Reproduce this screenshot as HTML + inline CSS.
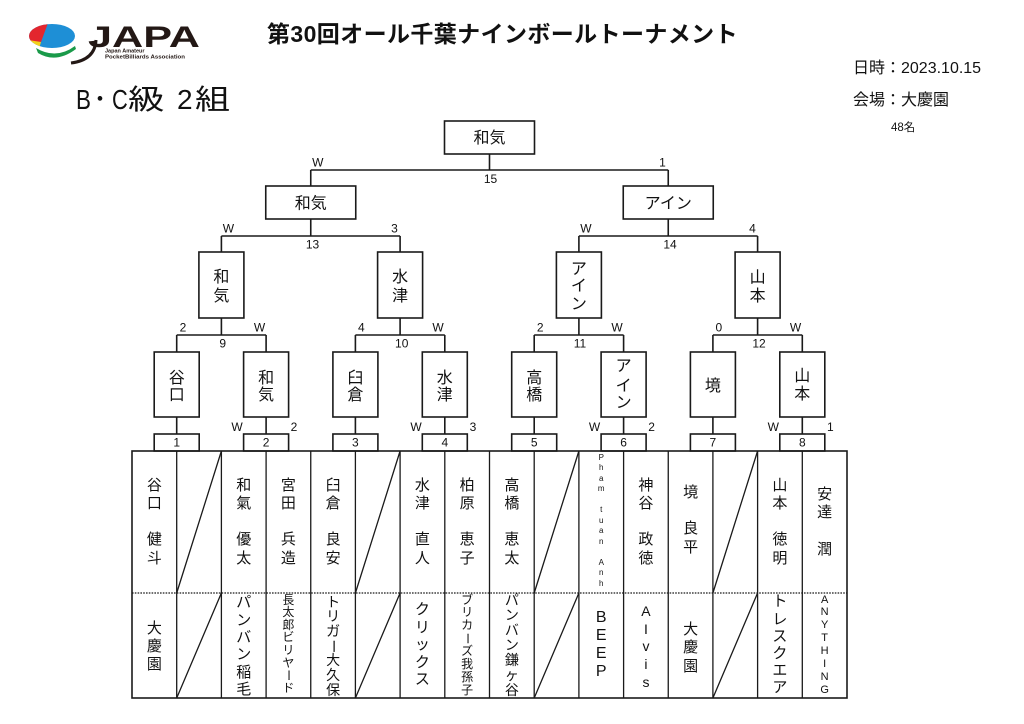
<!DOCTYPE html>
<html><head><meta charset="utf-8">
<style>
html,body{margin:0;padding:0;background:#fff;}
body{width:1024px;height:724px;position:relative;overflow:hidden;font-family:"Liberation Sans","Noto Sans CJK JP",sans-serif;color:#111;}
svg{position:absolute;left:0;top:0;}
.t{font-family:"Liberation Sans",sans-serif;font-size:12px;fill:#111;text-anchor:middle;}
.k{font-family:"Liberation Sans","Noto Sans CJK JP",sans-serif;font-size:16px;fill:#111;text-anchor:middle;}
.v{position:absolute;display:flex;flex-direction:column;align-items:center;width:44.7px;font-family:"Liberation Sans","Noto Sans CJK JP",sans-serif;color:#111;}
.v i{display:block;font-style:normal;text-align:center;height:var(--p);line-height:var(--p);white-space:nowrap;}
.r{display:inline-block;transform:rotate(90deg);}
.abs{position:absolute;white-space:nowrap;line-height:1;}
</style></head><body>

<svg width="1024" height="724" viewBox="0 0 1024 724">
<defs><clipPath id="el"><ellipse cx="52" cy="36" rx="23" ry="12"/></clipPath></defs>
<!-- logo -->
<g clip-path="url(#el)">
<rect x="28" y="23" width="50" height="30" fill="#1e8fd6"/>
<path d="M28,23 L48,23 L41,42 L28,41 Z" fill="#e3262e"/>
<path d="M28,40 L41,42 L38,52 L28,52 Z" fill="#f2d21a"/>
</g>
<path d="M36,48 Q56,60 75,46 L76,49 Q56,64 38,53 Z" fill="#1a9a4a"/>
<path d="M96,40 Q95,60 71,63" stroke="#231815" stroke-width="3" fill="none"/>
<text x="88" y="47" font-family="Liberation Sans,sans-serif" font-weight="bold" font-size="30" fill="#231815" textLength="112" lengthAdjust="spacingAndGlyphs">JAPA</text>
<text x="105" y="52.5" font-family="Liberation Sans,sans-serif" font-weight="bold" font-size="5.5" fill="#231815">Japan Amateur</text>
<text x="105" y="58.5" font-family="Liberation Sans,sans-serif" font-weight="bold" font-size="5.5" fill="#231815" textLength="80" lengthAdjust="spacingAndGlyphs">PocketBilliards Association</text>

<g stroke="#1a1a1a" stroke-width="1.6" fill="none">
<!-- top -->
<rect x="444.5" y="121" width="90" height="33" fill="#fff"/>
<path d="M489.5,154V170M310.75,170H668.25M310.75,170V186M668.25,170V186"/>
<rect x="265.75" y="186" width="90" height="33" fill="#fff"/>
<rect x="623.25" y="186" width="90" height="33" fill="#fff"/>
<path d="M310.75,219V236M668.25,219V236M221.4,236H400.1M578.9,236H757.6M221.4,236V252M400.1,236V252M578.9,236V252M757.6,236V252"/>
<rect x="198.9" y="252" width="45" height="66"/>
<rect x="377.6" y="252" width="45" height="66"/>
<rect x="556.4" y="252" width="45" height="66"/>
<rect x="735.1" y="252" width="45" height="66"/>
<path d="M221.4,318V335M400.1,318V335M578.9,318V335M757.6,318V335"/>
<path d="M176.7,335H266.1M355.4,335H444.8M534.2,335H623.6M712.9,335H802.3"/>
<path d="M176.7,335V352M266.1,335V352M355.4,335V352M444.8,335V352M534.2,335V352M623.6,335V352M712.9,335V352M802.3,335V352"/>
<rect x="154.2" y="352" width="45" height="65"/>
<rect x="243.6" y="352" width="45" height="65"/>
<rect x="332.9" y="352" width="45" height="65"/>
<rect x="422.3" y="352" width="45" height="65"/>
<rect x="511.7" y="352" width="45" height="65"/>
<rect x="601.1" y="352" width="45" height="65"/>
<rect x="690.4" y="352" width="45" height="65"/>
<rect x="779.8" y="352" width="45" height="65"/>
<path d="M176.7,417V434M266.1,417V434M355.4,417V434M444.8,417V434M534.2,417V434M623.6,417V434M712.9,417V434M802.3,417V434"/>
<rect x="154.2" y="434" width="45" height="17"/>
<rect x="243.6" y="434" width="45" height="17"/>
<rect x="332.9" y="434" width="45" height="17"/>
<rect x="422.3" y="434" width="45" height="17"/>
<rect x="511.7" y="434" width="45" height="17"/>
<rect x="601.1" y="434" width="45" height="17"/>
<rect x="690.4" y="434" width="45" height="17"/>
<rect x="779.8" y="434" width="45" height="17"/>
<!-- table -->
<rect x="132" y="451" width="715" height="247"/>
</g>
<g stroke="#1a1a1a" stroke-width="1.3" fill="none">
<path d="M176.7,451V698M221.4,451V698M266.1,451V698M310.75,451V698M355.4,451V698M400.1,451V698M444.8,451V698M489.5,451V698M534.2,451V698M578.9,451V698M623.6,451V698M668.25,451V698M712.9,451V698M757.6,451V698M802.3,451V698"/>
<path d="M176.7,593L221.4,451M176.7,698L221.4,593M355.4,593L400.1,451M355.4,698L400.1,593M534.2,593L578.9,451M534.2,698L578.9,593M712.9,593L757.6,451M712.9,698L757.6,593"/>
<path d="M132,593H847" stroke-dasharray="1.6 1.2"/>
</g>

<!-- bracket labels -->
<text class="t" x="317.75" y="166.7">W</text>
<text class="t" x="662.5" y="166.7">1</text>
<text class="t" x="490.5" y="183">15</text>
<text class="t" x="228.4" y="232.7">W</text>
<text class="t" x="394.5" y="232.7">3</text>
<text class="t" x="312.5" y="248.5">13</text>
<text class="t" x="585.9" y="232.7">W</text>
<text class="t" x="752.5" y="232.7">4</text>
<text class="t" x="670" y="248.5">14</text>
<text class="t" x="183" y="331.7">2</text>
<text class="t" x="259.5" y="331.7">W</text>
<text class="t" x="222.7" y="347.5">9</text>
<text class="t" x="361.4" y="331.7">4</text>
<text class="t" x="438" y="331.7">W</text>
<text class="t" x="401.7" y="347.5">10</text>
<text class="t" x="540.2" y="331.7">2</text>
<text class="t" x="617" y="331.7">W</text>
<text class="t" x="580" y="347.5">11</text>
<text class="t" x="718.9" y="331.7">0</text>
<text class="t" x="795.5" y="331.7">W</text>
<text class="t" x="759" y="347.5">12</text>
<text class="t" x="237" y="431">W</text>
<text class="t" x="294" y="431">2</text>
<text class="t" x="416" y="431">W</text>
<text class="t" x="473" y="431">3</text>
<text class="t" x="594.6" y="431">W</text>
<text class="t" x="651.6" y="431">2</text>
<text class="t" x="773.3" y="431">W</text>
<text class="t" x="830.3" y="431">1</text>
<text class="t" x="176.7" y="446.5">1</text>
<text class="t" x="266.1" y="446.5">2</text>
<text class="t" x="355.4" y="446.5">3</text>
<text class="t" x="444.8" y="446.5">4</text>
<text class="t" x="534.2" y="446.5">5</text>
<text class="t" x="623.6" y="446.5">6</text>
<text class="t" x="712.9" y="446.5">7</text>
<text class="t" x="802.3" y="446.5">8</text>

<!-- box texts -->
<text class="k" x="489.5" y="143">和気</text>
<text class="k" x="310.75" y="208.5">和気</text>
<text class="k" x="668.25" y="208.5">アイン</text>
<text class="k" x="221.4" y="282">和</text><text class="k" x="221.4" y="301">気</text>
<text class="k" x="400.1" y="282">水</text><text class="k" x="400.1" y="301">津</text>
<text class="k" x="578.9" y="274">ア</text><text class="k" x="578.9" y="291">イ</text><text class="k" x="578.9" y="309">ン</text>
<text class="k" x="757.6" y="282.7">山</text><text class="k" x="757.6" y="301">本</text>
<text class="k" x="176.7" y="383">谷</text><text class="k" x="176.7" y="400">口</text>
<text class="k" x="266.1" y="383">和</text><text class="k" x="266.1" y="400">気</text>
<text class="k" x="355.4" y="383">臼</text><text class="k" x="355.4" y="400">倉</text>
<text class="k" x="444.8" y="383">水</text><text class="k" x="444.8" y="400">津</text>
<text class="k" x="534.2" y="383">高</text><text class="k" x="534.2" y="400">橋</text>
<text class="k" x="623.6" y="371">ア</text><text class="k" x="623.6" y="391">イ</text><text class="k" x="623.6" y="407.7">ン</text>
<text class="k" x="712.9" y="391">境</text>
<text class="k" x="802.3" y="381">山</text><text class="k" x="802.3" y="399">本</text>
</svg>

<!-- header texts -->
<div class="abs" style="left:0;top:23px;width:1005px;text-align:center;font-size:23px;font-weight:bold;letter-spacing:0.4px;">第30回オール千葉ナインボールトーナメント</div>
<div class="abs" style="left:76px;top:86px;font-size:28px;transform:scaleX(0.8);transform-origin:left center;">B</div>
<div class="abs" style="left:93px;top:86px;font-size:28px;">･</div>
<div class="abs" style="left:112px;top:86px;font-size:28px;transform:scaleX(0.78);transform-origin:left center;">C</div>
<div class="abs" style="left:128px;top:86px;font-size:28px;transform:scaleX(1.3);transform-origin:left center;">級</div>
<div class="abs" style="left:177px;top:86px;font-size:28px;">2</div>
<div class="abs" style="left:195px;top:86px;font-size:28px;transform:scaleX(1.25);transform-origin:left center;">組</div>
<div class="abs" style="left:853px;top:61px;font-size:16px;">日時：2023.10.15</div>
<div class="abs" style="left:853px;top:92.5px;font-size:16px;">会場：大慶園</div>
<div class="abs" style="left:891px;top:123px;font-size:11.5px;">48名</div>

<!-- player names (upper) -->
<div class="v" style="left:132px;top:476.5px;--p:18.3px;font-size:15px;"><i>谷</i><i>口</i><i></i><i>健</i><i>斗</i></div>
<div class="v" style="left:221.4px;top:476.5px;--p:18.3px;font-size:15px;"><i>和</i><i>氣</i><i></i><i>優</i><i>太</i></div>
<div class="v" style="left:266.1px;top:476.5px;--p:18.3px;font-size:15px;"><i>宮</i><i>田</i><i></i><i>兵</i><i>造</i></div>
<div class="v" style="left:310.75px;top:476.5px;--p:18.3px;font-size:15px;"><i>臼</i><i>倉</i><i></i><i>良</i><i>安</i></div>
<div class="v" style="left:400.1px;top:476.5px;--p:18.3px;font-size:15px;"><i>水</i><i>津</i><i></i><i>直</i><i>人</i></div>
<div class="v" style="left:444.8px;top:476.5px;--p:18.3px;font-size:15px;"><i>柏</i><i>原</i><i></i><i>恵</i><i>子</i></div>
<div class="v" style="left:489.5px;top:476.5px;--p:18.3px;font-size:15px;"><i>高</i><i>橋</i><i></i><i>恵</i><i>太</i></div>
<div class="v" style="left:578.9px;top:452.7px;--p:10.5px;font-size:8px;"><i>P</i><i>h</i><i>a</i><i>m</i><i></i><i>t</i><i>u</i><i>a</i><i>n</i><i></i><i>A</i><i>n</i><i>h</i></div>
<div class="v" style="left:623.6px;top:476.5px;--p:18.3px;font-size:15px;"><i>神</i><i>谷</i><i></i><i>政</i><i>徳</i></div>
<div class="v" style="left:668.25px;top:483.9px;--p:18.3px;font-size:15px;"><i>境</i><i></i><i>良</i><i>平</i></div>
<div class="v" style="left:757.6px;top:476.5px;--p:18.3px;font-size:15px;"><i>山</i><i>本</i><i></i><i>徳</i><i>明</i></div>
<div class="v" style="left:802.3px;top:485.9px;--p:18.3px;font-size:15px;"><i>安</i><i>達</i><i></i><i>潤</i></div>

<!-- team names (lower) -->
<div class="v" style="left:132px;top:620px;--p:18px;font-size:15px;"><i>大</i><i>慶</i><i>園</i></div>
<div class="v" style="left:221.4px;top:594.3px;--p:17.4px;font-size:15px;"><i>パ</i><i>ン</i><i>バ</i><i>ン</i><i>稲</i><i>毛</i></div>
<div class="v" style="left:266.1px;top:593.7px;--p:12.6px;font-size:12px;"><i>長</i><i>太</i><i>郎</i><i>ビ</i><i>リ</i><i>ヤ</i><i><span class="r">ー</span></i><i>ド</i></div>
<div class="v" style="left:310.75px;top:594.6px;--p:14.7px;font-size:14px;"><i>ト</i><i>リ</i><i>ガ</i><i><span class="r">ー</span></i><i>大</i><i>久</i><i>保</i></div>
<div class="v" style="left:400.1px;top:601px;--p:17.5px;font-size:15px;"><i>ク</i><i>リ</i><i>ッ</i><i>ク</i><i>ス</i></div>
<div class="v" style="left:444.8px;top:593.5px;--p:12.9px;font-size:12px;"><i>ブ</i><i>リ</i><i>カ</i><i><span class="r">ー</span></i><i>ズ</i><i>我</i><i>孫</i><i>子</i></div>
<div class="v" style="left:489.5px;top:593px;--p:15px;font-size:14px;"><i>パ</i><i>ン</i><i>バ</i><i>ン</i><i>鎌</i><i>ヶ</i><i>谷</i></div>
<div class="v" style="left:578.9px;top:609px;--p:18px;font-size:16px;"><i>B</i><i>E</i><i>E</i><i>P</i></div>
<div class="v" style="left:623.6px;top:603px;--p:17.7px;font-size:14px;"><i>A</i><i>I</i><i>v</i><i>i</i><i>s</i></div>
<div class="v" style="left:668.25px;top:621px;--p:18.3px;font-size:15px;"><i>大</i><i>慶</i><i>園</i></div>
<div class="v" style="left:757.6px;top:593.4px;--p:17.2px;font-size:15px;"><i>ト</i><i>レ</i><i>ス</i><i>ク</i><i>エ</i><i>ア</i></div>
<div class="v" style="left:802.3px;top:593.5px;--p:12.9px;font-size:11px;"><i>A</i><i>N</i><i>Y</i><i>T</i><i>H</i><i>I</i><i>N</i><i>G</i></div>

</body></html>
